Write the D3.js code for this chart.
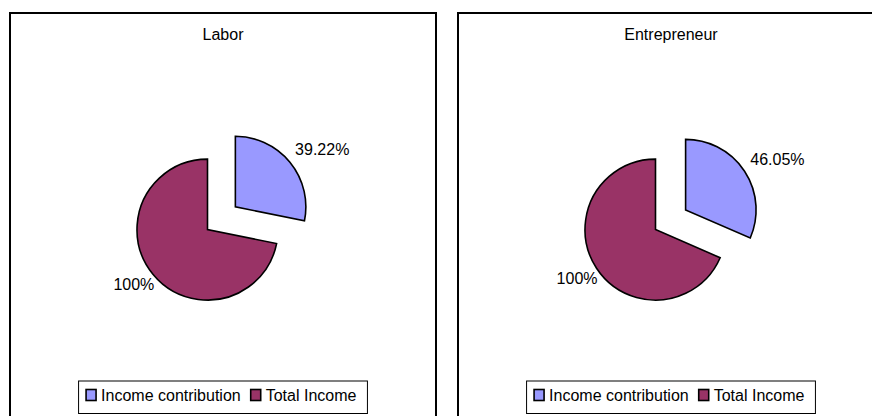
<!DOCTYPE html>
<html>
<head>
<meta charset="utf-8">
<script src="https://cdn.jsdelivr.net/npm/d3@7"></script>
<style>
  html, body { margin: 0; padding: 0; background: #fff; }
  svg { display: block; }
  text { font-family: "Liberation Sans", Arial, sans-serif; fill: #000; }
</style>
</head>
<body>
<svg id="chart" width="872" height="416"></svg>
<script>
// ---- data ----
const panelTitles = ["Labor", "Entrepreneur"];
const seriesNames = ["Income contribution", "Total Income"];
const laborValues = [39.22, 100];
const entrepreneurValues = [46.05, 100];
const laborLabels = ["39.22%", "100%"];
const entrepreneurLabels = ["46.05%", "100%"];
const colors = ["#9999FF", "#993366"];

const panels = [
  { title: panelTitles[0], values: laborValues, labels: laborLabels },
  { title: panelTitles[1], values: entrepreneurValues, labels: entrepreneurLabels }
];

// ---- layout ----
const svg = d3.select("#chart");
const panelX = [10, 458];
const panelY = 13, panelW = 426, panelH = 420;
const radius = 70.5;
const explode = 36;
const pieCx = 197.5, pieCy = 229.6;
const fs = 16;

const pie = d3.pie().sort(null).value(d => d);
const arc = d3.arc().innerRadius(0).outerRadius(radius);

panels.forEach((p, pi) => {
  const g = svg.append("g").attr("transform", `translate(${panelX[pi]},${panelY})`);
  g.append("rect")
    .attr("x", 0).attr("y", 0).attr("width", panelW).attr("height", panelH)
    .attr("fill", "#fff").attr("stroke", "#000").attr("stroke-width", 2);

  g.append("text")
    .attr("x", panelW / 2).attr("y", 27)
    .attr("text-anchor", "middle")
    .attr("font-size", fs)
    .text(p.title);

  const pg = g.append("g").attr("transform", `translate(${pieCx},${pieCy - panelY})`);
  const arcs = pie(p.values);

  arcs.forEach((a, i) => {
    const mid = (a.startAngle + a.endAngle) / 2;
    const dx = Math.sin(mid), dy = -Math.cos(mid);
    const off = i === 0 ? explode : 0;
    const sg = pg.append("g").attr("transform", `translate(${dx * off},${dy * off})`);
    sg.append("path")
      .attr("d", arc(a))
      .attr("fill", colors[i])
      .attr("stroke", "#000")
      .attr("stroke-width", 1.6)
      .attr("stroke-linejoin", "miter");

    const lr = radius + (i === 0 ? 8 : 6);
    const px = dx * lr, py = dy * lr;
    const t = sg.append("text")
      .attr("font-size", fs)
      .attr("text-anchor", dx >= 0 ? "start" : "end")
      .text(p.labels[i]);
    if (dy < 0) {
      t.attr("x", px - 1).attr("y", py - 2);
    } else {
      t.attr("x", px + 6).attr("y", py + 12);
    }
  });

  // legend
  const lg = g.append("g");
  const box = lg.append("rect")
    .attr("fill", "#fff").attr("stroke", "#000").attr("stroke-width", 1);
  let x = 0;
  const gap = 10;
  seriesNames.forEach((name, i) => {
    const ig = lg.append("g").attr("transform", `translate(${x},0)`);
    ig.append("rect")
      .attr("x", 0).attr("y", -10.5).attr("width", 10).attr("height", 11)
      .attr("fill", colors[i]).attr("stroke", "#000").attr("stroke-width", 1.6);
    const tx = ig.append("text")
      .attr("x", 15).attr("y", 0.5)
      .attr("font-size", fs)
      .text(name);
    const w = tx.node().getComputedTextLength();
    x += 15 + w + gap;
  });
  const totalW = x - gap;
  const padL = 7.5, padR = 11;
  const boxW = totalW + padL + padR;
  const boxX = panelW / 2 - boxW / 2;
  const baseY = 400 - panelY;
  lg.attr("transform", `translate(${boxX + padL},${baseY})`);
  box.attr("x", -padL).attr("y", 381 - 400).attr("width", boxW).attr("height", 32.5);
});
</script>
</body>
</html>
